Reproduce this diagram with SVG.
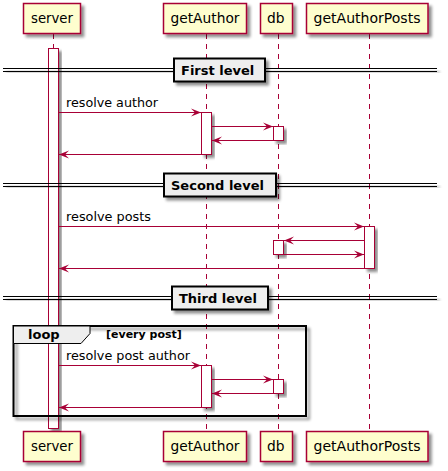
<svg xmlns="http://www.w3.org/2000/svg" width="448" height="471" viewBox="0 0 448 471">
<defs>
<filter id="sh" x="-20%" y="-20%" width="150%" height="150%">
<feGaussianBlur in="SourceAlpha" stdDeviation="1.6"/>
<feOffset dx="3" dy="3" result="b"/>
<feComponentTransfer><feFuncA type="linear" slope="0.45"/></feComponentTransfer>
<feMerge><feMergeNode/><feMergeNode in="SourceGraphic"/></feMerge>
</filter>
<marker id="ah" markerWidth="11" markerHeight="9" refX="10" refY="4.5" orient="auto" markerUnits="userSpaceOnUse">
<polygon points="0,0.5 10,4.5 0,8.5 4,4.5" fill="#A80036"/>
</marker>
</defs>
<style>
.life{stroke:#A80036;stroke-width:1;stroke-dasharray:5,5;fill:none}
.part{fill:#FEFECE;stroke:#A80036;stroke-width:1.5}
.pt{font-family:"DejaVu Sans",sans-serif;font-size:13.5px;fill:#000}
.act{fill:#FFFFFF;stroke:#A80036;stroke-width:1}
.msg{stroke:#A80036;stroke-width:1;fill:none;marker-end:url(#ah)}
.mt{font-family:"DejaVu Sans",sans-serif;font-size:13px;fill:#000}
.dl{stroke:#000;stroke-width:1}
.db{fill:#EEEEEE;stroke:#000;stroke-width:2}
.dt{font-family:"DejaVu Sans",sans-serif;font-size:13px;font-weight:bold;fill:#000}
.ct{font-family:"DejaVu Sans",sans-serif;font-size:11px;font-weight:bold;fill:#000}
</style>

<g id="lifelines">
<line class="life" x1="53.5" y1="34" x2="53.5" y2="431"/>
<line class="life" x1="206.5" y1="34" x2="206.5" y2="431"/>
<line class="life" x1="278.5" y1="34" x2="278.5" y2="431"/>
<line class="life" x1="369.5" y1="34" x2="369.5" y2="431"/>
</g>

<g id="activations">
<rect class="act" x="48.5" y="48.5" width="10" height="380" filter="url(#sh)"/>
<rect class="act" x="201.5" y="112.5" width="10" height="42" filter="url(#sh)"/>
<rect class="act" x="273.5" y="126.5" width="10" height="14" filter="url(#sh)"/>
<rect class="act" x="364.5" y="226.5" width="10" height="42" filter="url(#sh)"/>
<rect class="act" x="273.5" y="240.5" width="10" height="14" filter="url(#sh)"/>
<rect class="act" x="201.5" y="365.5" width="10" height="42" filter="url(#sh)"/>
<rect class="act" x="273.5" y="379.5" width="10" height="14" filter="url(#sh)"/>
</g>

<g id="div1">
<g filter="url(#sh)">
<line class="dl" x1="3" y1="68.5" x2="437" y2="68.5"/>
<line class="dl" x1="3" y1="71.5" x2="437" y2="71.5"/>
</g>
<rect class="db" x="174" y="58.5" width="91" height="23" filter="url(#sh)"/>
<text class="dt" x="181" y="75">First level</text>
</g>

<g id="div2">
<g filter="url(#sh)">
<line class="dl" x1="3" y1="183.5" x2="437" y2="183.5"/>
<line class="dl" x1="3" y1="186.5" x2="437" y2="186.5"/>
</g>
<rect class="db" x="164" y="173.5" width="112" height="23" filter="url(#sh)"/>
<text class="dt" x="171" y="190">Second level</text>
</g>

<g id="div3">
<g filter="url(#sh)">
<line class="dl" x1="3" y1="296.5" x2="437" y2="296.5"/>
<line class="dl" x1="3" y1="299.5" x2="437" y2="299.5"/>
</g>
<rect class="db" x="172" y="286.5" width="96" height="23" filter="url(#sh)"/>
<text class="dt" x="179" y="303">Third level</text>
</g>

<g id="loop">
<rect x="13.5" y="326" width="292.5" height="90" fill="none" stroke="#000" stroke-width="2" filter="url(#sh)"/>
<polygon points="13.5,326 90,326 90,333.5 81,343.5 13.5,343.5" fill="#EEEEEE" stroke="#000" stroke-width="1"/>
<text class="dt" x="28" y="339">loop</text>
<text class="ct" x="106" y="338">[every post]</text>
</g>

<g id="connectors">
<line class="msg" x1="58.5" y1="112.5" x2="201" y2="112.5"/>
<line class="msg" x1="211.5" y1="126.5" x2="273" y2="126.5"/>
<line class="msg" x1="273.5" y1="140.5" x2="212" y2="140.5"/>
<line class="msg" x1="201.5" y1="154.5" x2="59" y2="154.5"/>

<line class="msg" x1="58.5" y1="226.5" x2="364" y2="226.5"/>
<line class="msg" x1="364.5" y1="240.5" x2="284" y2="240.5"/>
<line class="msg" x1="283.5" y1="254.5" x2="364" y2="254.5"/>
<line class="msg" x1="364.5" y1="268.5" x2="59" y2="268.5"/>

<line class="msg" x1="58.5" y1="365.5" x2="201" y2="365.5"/>
<line class="msg" x1="211.5" y1="379.5" x2="273" y2="379.5"/>
<line class="msg" x1="273.5" y1="393.5" x2="212" y2="393.5"/>
<line class="msg" x1="201.5" y1="407.5" x2="59" y2="407.5"/>
</g>

<g id="labels">
<text class="mt" x="66" y="107" textLength="92" lengthAdjust="spacingAndGlyphs">resolve author</text>
<text class="mt" x="66" y="221" textLength="85" lengthAdjust="spacingAndGlyphs">resolve posts</text>
<text class="mt" x="66" y="360" textLength="124" lengthAdjust="spacingAndGlyphs">resolve post author</text>
</g>

<g id="server">
<rect class="part" x="23.5" y="3.5" width="57" height="30" filter="url(#sh)"/>
<text class="pt" x="31" y="23" textLength="42" lengthAdjust="spacingAndGlyphs">server</text>
<rect class="part" x="23.5" y="431.5" width="57" height="30" filter="url(#sh)"/>
<text class="pt" x="31" y="451" textLength="42" lengthAdjust="spacingAndGlyphs">server</text>
</g>
<g id="getAuthor">
<rect class="part" x="163.5" y="3.5" width="83" height="30" filter="url(#sh)"/>
<text class="pt" x="170.5" y="23" textLength="69" lengthAdjust="spacingAndGlyphs">getAuthor</text>
<rect class="part" x="163.5" y="431.5" width="83" height="30" filter="url(#sh)"/>
<text class="pt" x="170.5" y="451" textLength="69" lengthAdjust="spacingAndGlyphs">getAuthor</text>
</g>
<g id="db">
<rect class="part" x="260.5" y="3.5" width="32" height="30" filter="url(#sh)"/>
<text class="pt" x="267" y="23" textLength="17.5" lengthAdjust="spacingAndGlyphs">db</text>
<rect class="part" x="260.5" y="431.5" width="32" height="30" filter="url(#sh)"/>
<text class="pt" x="267" y="451" textLength="17.5" lengthAdjust="spacingAndGlyphs">db</text>
</g>
<g id="getAuthorPosts">
<rect class="part" x="306.5" y="3.5" width="121.5" height="30" filter="url(#sh)"/>
<text class="pt" x="313.5" y="23" textLength="107" lengthAdjust="spacingAndGlyphs">getAuthorPosts</text>
<rect class="part" x="306.5" y="431.5" width="121.5" height="30" filter="url(#sh)"/>
<text class="pt" x="313.5" y="451" textLength="107" lengthAdjust="spacingAndGlyphs">getAuthorPosts</text>
</g>
</svg>
